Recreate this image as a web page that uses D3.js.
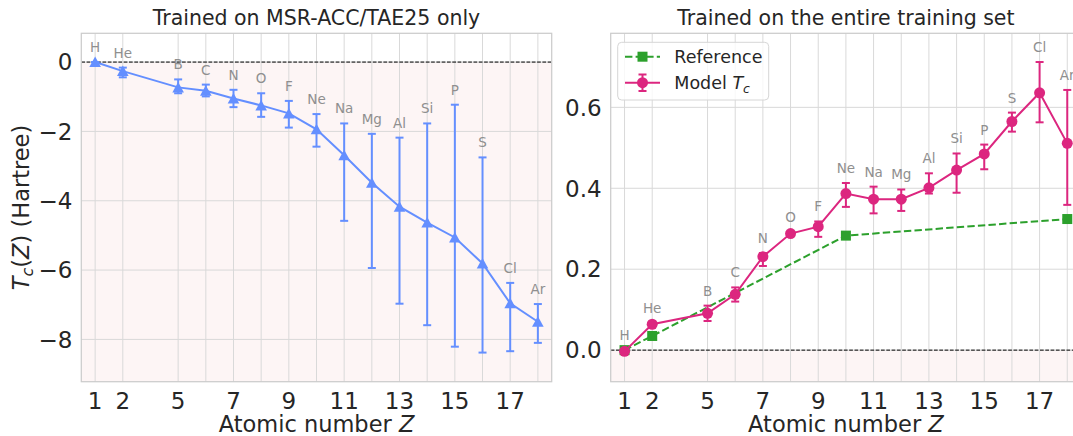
<!DOCTYPE html>
<meta charset="utf-8">

<style>

body {
  margin: 0;
  background: #fff;
}

text {
  font-family: "DejaVu Sans", sans-serif;
  fill: #262626;
}

.grid line {
  stroke: #d9d9d9;
  stroke-width: 1;
}

.tick-label {
  font-size: 23px;
}

.elem {
  font-size: 13.5px;
  fill: #8f8f8f;
  text-anchor: middle;
}

</style>
<svg width="1073" height="436"></svg>
<script src="https://d3js.org/d3.v7.min.js"></script>
<script>

// elements shown on the x axis (Li and Be are missing, so the gap is squeezed)
var elements = ["H", "He", "B", "C", "N", "O", "F", "Ne", "Na", "Mg", "Al", "Si", "P", "S", "Cl", "Ar"],
    atomicZ = [1, 2, 5, 6, 7, 8, 9, 10, 11, 12, 13, 14, 15, 16, 17, 18],
    xPos = [1, 2, 4, 5, 6, 7, 8, 9, 10, 11, 12, 13, 14, 15, 16, 17],
    labelledZ = [1, 2, 5, 7, 9, 11, 13, 15, 17];

// left panel: trained on MSR-ACC/TAE25 only
var msrValue = [0, -0.26, -0.73, -0.83, -1.05, -1.25, -1.48, -1.94, -2.69, -3.48, -4.17, -4.63, -5.06, -5.81, -6.96, -7.49],
    msrUpper = [0, -0.16, -0.5, -0.65, -0.8, -0.9, -1.12, -1.5, -1.77, -2.07, -2.18, -1.77, -1.23, -2.75, -6.37, -6.98],
    msrLower = [0, -0.44, -0.9, -0.99, -1.3, -1.58, -1.89, -2.44, -4.58, -5.94, -6.97, -7.59, -8.21, -8.38, -8.34, -8.1],
    leftYTicks = [0, -2, -4, -6, -8];

// right panel: trained on the entire training set
var modelValue = [-0.003, 0.064, 0.091, 0.138, 0.231, 0.288, 0.305, 0.387, 0.373, 0.373, 0.401, 0.445, 0.485, 0.565, 0.636, 0.511],
    modelUpper = [0.0, 0.066, 0.11, 0.155, 0.24, 0.292, 0.318, 0.413, 0.404, 0.397, 0.437, 0.486, 0.508, 0.587, 0.712, 0.643],
    modelLower = [-0.006, 0.062, 0.072, 0.12, 0.208, 0.284, 0.28, 0.354, 0.338, 0.344, 0.387, 0.389, 0.447, 0.54, 0.563, 0.359],
    refElements = ["H", "He", "Ne", "Ar"],
    refValue = [0.0, 0.035, 0.283, 0.324],
    rightYTicks = [0, 0.2, 0.4, 0.6];

var blue = "#648FFF",
    pink = "#DC267F",
    green = "#2CA02C";

var svg = d3.select("svg"),
    top_ = 33.3,
    bottom = 381.7;

function rows(values, upper, lower) {
  return elements.map(function(e, i) {
    return {name: e, x: xPos[i], v: values[i], hi: upper[i], lo: lower[i]};
  });
}

function panel(opt) {
  var x = d3.scaleLinear().domain([0.5, 17.5]).range([opt.left, opt.left + 470.4]),
      y = d3.scaleLinear().domain(opt.yDomain).range([bottom, top_]);

  var g = svg.append("g");

  // pale band under zero
  g.append("rect")
      .attr("x", x.range()[0]).attr("y", y(0))
      .attr("width", x.range()[1] - x.range()[0]).attr("height", bottom - y(0))
      .attr("fill", "#fdf5f5");

  var grid = g.append("g").attr("class", "grid");
  grid.selectAll(".gx").data(xPos).enter().append("line")
      .attr("x1", function(d) { return x(d); }).attr("x2", function(d) { return x(d); })
      .attr("y1", top_).attr("y2", bottom);
  grid.selectAll(".gy").data(opt.yTicks).enter().append("line")
      .attr("x1", x.range()[0]).attr("x2", x.range()[1])
      .attr("y1", function(d) { return y(d); }).attr("y2", function(d) { return y(d); });

  g.append("line")
      .attr("x1", x.range()[0]).attr("x2", x.range()[1])
      .attr("y1", y(0)).attr("y2", y(0))
      .attr("stroke", "#000").attr("stroke-width", 1)
      .attr("stroke-dasharray", "3.7,1.6");

  // tick labels
  g.selectAll(".xt").data(labelledZ).enter().append("text")
      .attr("class", "tick-label")
      .attr("x", function(z) { return x(xPos[atomicZ.indexOf(z)]); })
      .attr("y", 409)
      .attr("text-anchor", "middle")
      .text(function(z) { return z; });
  g.selectAll(".yt").data(opt.yTicks).enter().append("text")
      .attr("class", "tick-label")
      .attr("x", x.range()[0] - 9)
      .attr("y", function(d) { return y(d); })
      .attr("dy", "0.36em")
      .attr("text-anchor", "end")
      .text(opt.yFormat);

  var ax = g.append("text")
      .attr("x", (x.range()[0] + x.range()[1]) / 2)
      .attr("y", 432)
      .attr("text-anchor", "middle")
      .style("font-size", "22.5px");
  ax.append("tspan").text("Atomic number ");
  ax.append("tspan").style("font-style", "italic").text("Z");

  g.append("text")
      .attr("x", (x.range()[0] + x.range()[1]) / 2)
      .attr("y", 25)
      .attr("text-anchor", "middle")
      .style("font-size", "20.5px")
      .text(opt.title);

  return {g: g, x: x, y: y};
}

function errorbars(p, data, color) {
  var eb = p.g.append("g").attr("stroke", color).attr("stroke-width", 2);
  eb.selectAll(".v").data(data).enter().append("line")
      .attr("x1", function(d) { return p.x(d.x); }).attr("x2", function(d) { return p.x(d.x); })
      .attr("y1", function(d) { return p.y(d.hi); }).attr("y2", function(d) { return p.y(d.lo); });
  ["hi", "lo"].forEach(function(k) {
    eb.selectAll(".c" + k).data(data).enter().append("line")
        .attr("x1", function(d) { return p.x(d.x) - 4; }).attr("x2", function(d) { return p.x(d.x) + 4; })
        .attr("y1", function(d) { return p.y(d[k]); }).attr("y2", function(d) { return p.y(d[k]); });
  });
}

function elementLabels(p, data) {
  p.g.selectAll(".elem").data(data).enter().append("text")
      .attr("class", "elem")
      .attr("x", function(d) { return p.x(d.x); })
      .attr("y", function(d) { return p.y(d.hi) - 10; })
      .text(function(d) { return d.name; });
}

function frame(p) {
  p.g.append("rect")
      .attr("x", p.x.range()[0]).attr("y", top_)
      .attr("width", p.x.range()[1] - p.x.range()[0]).attr("height", bottom - top_)
      .attr("fill", "none").attr("stroke", "#cccccc").attr("stroke-width", 1.25);
}

// ---- left panel
var left = panel({
  left: 81.3,
  yDomain: [-9.22, 0.83],
  yTicks: leftYTicks,
  yFormat: function(d) { return d3.format("d")(d).replace("-", "\u2212"); },
  title: "Trained on MSR-ACC/TAE25 only"
});
var msr = rows(msrValue, msrUpper, msrLower);

left.g.append("path")
    .datum(msr)
    .attr("fill", "none").attr("stroke", blue).attr("stroke-width", 2)
    .attr("d", d3.line().x(function(d) { return left.x(d.x); }).y(function(d) { return left.y(d.v); }));
errorbars(left, msr, blue);
left.g.selectAll(".tri").data(msr).enter().append("path")
    .attr("fill", blue)
    .attr("transform", function(d) { return "translate(" + left.x(d.x) + "," + left.y(d.v) + ")"; })
    .attr("d", "M0,-5.5L5.8,5L-5.8,5Z");
elementLabels(left, msr);
frame(left);

var yl = svg.append("text")
    .attr("transform", "translate(29,207.5) rotate(-90)")
    .attr("text-anchor", "middle")
    .style("font-size", "22.5px");
yl.append("tspan").style("font-style", "italic").text("T");
yl.append("tspan").style("font-style", "italic").style("font-size", "16px").attr("dy", 4).text("c");
yl.append("tspan").attr("dy", -4).text("(");
yl.append("tspan").style("font-style", "italic").text("Z");
yl.append("tspan").text(") (Hartree)");

// ---- right panel
var right = panel({
  left: 610.7,
  yDomain: [-0.078, 0.783],
  yTicks: rightYTicks,
  yFormat: d3.format(".1f"),
  title: "Trained on the entire training set"
});
var model = rows(modelValue, modelUpper, modelLower);
var ref = refElements.map(function(e, i) {
  return {x: xPos[elements.indexOf(e)], v: refValue[i]};
});

right.g.append("path")
    .datum(ref)
    .attr("fill", "none").attr("stroke", green).attr("stroke-width", 2)
    .attr("stroke-dasharray", "7.4,3.2")
    .attr("d", d3.line().x(function(d) { return right.x(d.x); }).y(function(d) { return right.y(d.v); }));
right.g.selectAll(".sq").data(ref).enter().append("rect")
    .attr("fill", green)
    .attr("x", function(d) { return right.x(d.x) - 5; })
    .attr("y", function(d) { return right.y(d.v) - 5; })
    .attr("width", 10).attr("height", 10);

right.g.append("path")
    .datum(model)
    .attr("fill", "none").attr("stroke", pink).attr("stroke-width", 2)
    .attr("d", d3.line().x(function(d) { return right.x(d.x); }).y(function(d) { return right.y(d.v); }));
errorbars(right, model, pink);
right.g.selectAll(".dot").data(model).enter().append("circle")
    .attr("fill", pink)
    .attr("cx", function(d) { return right.x(d.x); })
    .attr("cy", function(d) { return right.y(d.v); })
    .attr("r", 5.5);
elementLabels(right, model);
frame(right);

// legend
var lg = svg.append("g");
lg.append("rect")
    .attr("x", 617.7).attr("y", 42.3).attr("width", 151).attr("height", 57.7).attr("rx", 4)
    .attr("fill", "#fff").attr("fill-opacity", 0.8)
    .attr("stroke", "#d6d6d6").attr("stroke-width", 1);
lg.append("line")
    .attr("x1", 625).attr("x2", 660).attr("y1", 56.7).attr("y2", 56.7)
    .attr("stroke", green).attr("stroke-width", 2).attr("stroke-dasharray", "7.4,3.2");
lg.append("rect")
    .attr("x", 637.5).attr("y", 51.7).attr("width", 10).attr("height", 10).attr("fill", green);
lg.append("line")
    .attr("x1", 625).attr("x2", 660).attr("y1", 82.7).attr("y2", 82.7)
    .attr("stroke", pink).attr("stroke-width", 2);
lg.append("path")
    .attr("d", "M642.5,74.5V91M638.5,74.5H646.5M638.5,91H646.5")
    .attr("stroke", pink).attr("stroke-width", 2);
lg.append("circle").attr("cx", 642.5).attr("cy", 82.7).attr("r", 5.5).attr("fill", pink);
lg.append("text")
    .attr("x", 674.3).attr("y", 56.7).attr("dy", "0.36em")
    .style("font-size", "17.5px")
    .text("Reference");
var lt = lg.append("text")
    .attr("x", 674.3).attr("y", 82.7).attr("dy", "0.36em")
    .style("font-size", "17.5px");
lt.append("tspan").text("Model ");
lt.append("tspan").style("font-style", "italic").text("T");
lt.append("tspan").style("font-style", "italic").style("font-size", "12.5px").attr("dy", 4).text("c");

</script>
